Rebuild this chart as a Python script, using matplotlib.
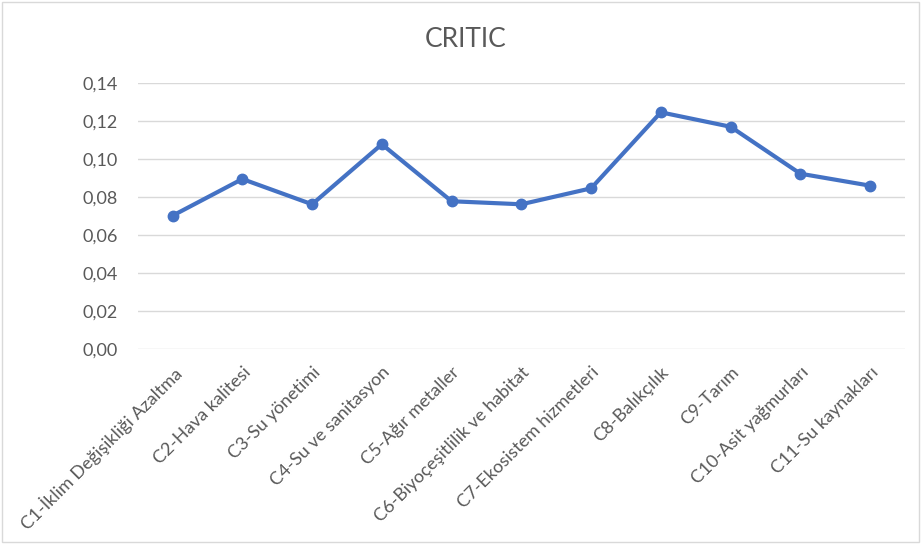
import matplotlib
matplotlib.use("Agg")
import matplotlib.pyplot as plt
from matplotlib.patches import Rectangle
from matplotlib.ticker import FuncFormatter

criteria = [
    "C1-İklim Değişikliği Azaltma",
    "C2-Hava kalitesi",
    "C3-Su yönetimi",
    "C4-Su ve sanitasyon",
    "C5-Ağır metaller",
    "C6-Biyoçeşitlilik ve habitat",
    "C7-Ekosistem hizmetleri",
    "C8-Balıkçılık",
    "C9-Tarım",
    "C10-Asit yağmurları",
    "C11-Su kaynakları",
]
weights = [0.0700, 0.0893, 0.0760, 0.1076, 0.0776, 0.0760, 0.0844, 0.1244, 0.1168, 0.0921, 0.0858]
y_ticks = [0.00, 0.02, 0.04, 0.06, 0.08, 0.10, 0.12, 0.14]

plt.rcParams["font.family"] = ["Lato", "DejaVu Sans"]

TEXT_COLOR = "#595959"
LINE_COLOR = "#4472C4"
GRID_COLOR = "#D9D9D9"

fig = plt.figure(figsize=(9.21, 5.45), dpi=100)
ax = fig.add_axes([0.1495, 0.3602, 0.8331, 0.4881])

x = list(range(len(criteria)))
ax.plot(x, weights, color=LINE_COLOR, linewidth=3, marker="o", markersize=7.5,
        solid_capstyle="round", zorder=3)

ax.set_xlim(-0.5, len(criteria) - 0.5)
ax.set_ylim(0, 0.14)
ax.set_yticks(y_ticks)
ax.yaxis.set_major_formatter(FuncFormatter(lambda v, _: f"{v:.2f}".replace(".", ",")))
ax.grid(axis="y", color=GRID_COLOR, linewidth=1.0)
ax.set_axisbelow(True)

ax.set_xticks(x)
ax.set_xticklabels(criteria, rotation=45, ha="right", va="top", rotation_mode="anchor")
ax.tick_params(axis="x", length=0, pad=11, labelsize=13, labelcolor=TEXT_COLOR)
ax.tick_params(axis="y", length=0, pad=14, labelsize=13, labelcolor=TEXT_COLOR)

for spine in ax.spines.values():
    spine.set_visible(False)

fig.text(0.506, 0.927, "CRITIC", ha="center", va="center", fontsize=19, color=TEXT_COLOR)

# chart area border
fig.patches.append(Rectangle((2 / 921, 3 / 545), 917 / 921, 540 / 545, transform=fig.transFigure,
                             fill=False, edgecolor=GRID_COLOR, linewidth=1.0))

fig.savefig("out.png", dpi=100)
